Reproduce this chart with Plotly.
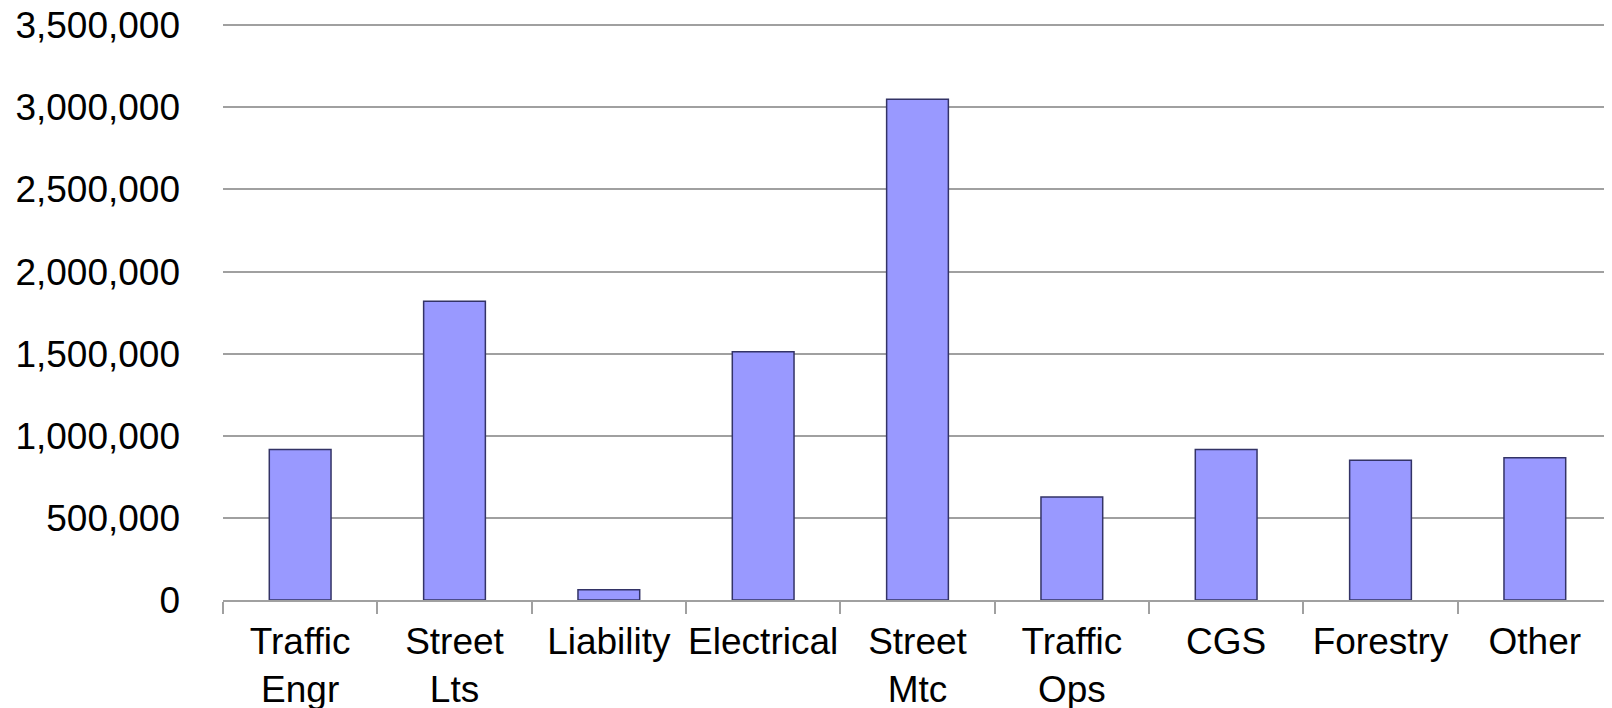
import plotly.graph_objects as go

categories = ["Traffic<br>Engr", "Street<br>Lts", "Liability", "Electrical", "Street<br>Mtc",
              "Traffic<br>Ops", "CGS", "Forestry", "Other"]
values = [916000, 1819000, 62000, 1512000, 3050000, 628000, 916000, 851000, 867000]
y_ticks = [0, 500000, 1000000, 1500000, 2000000, 2500000, 3000000, 3500000]

fig = go.Figure(go.Bar(
    x=categories, y=values,
    marker=dict(color="#9999FF", line=dict(color="#333366", width=1.5)),
))

font = dict(family="Liberation Sans, Arial, sans-serif", size=37, color="black")

# page body has an 8px margin, so the figure is sized/offset to compensate
fig.update_layout(
    width=1604, height=700,
    margin=dict(l=215, r=0, t=14, b=108),
    plot_bgcolor="white", paper_bgcolor="white",
    bargap=0.6, showlegend=False, font=font,
)
fig.update_yaxes(
    range=[0, 3520000], tickvals=y_ticks, tickformat=",d",
    showgrid=True, gridcolor="#a0a0a0", gridwidth=1.5,
    zeroline=False, showline=False, ticks="", ticklabelstandoff=42,
    tickfont=font, automargin=False, ticklabeloverflow="allow",
)
fig.update_xaxes(
    showline=True, linecolor="#a0a0a0", linewidth=1.5,
    ticks="outside", tickson="boundaries", ticklen=12, tickcolor="#a0a0a0", tickwidth=1.5,
    tickfont=font, ticklabelstandoff=8, automargin=False, tickangle=0,
    ticklabeloverflow="allow",
)
fig.write_html("out.html")
